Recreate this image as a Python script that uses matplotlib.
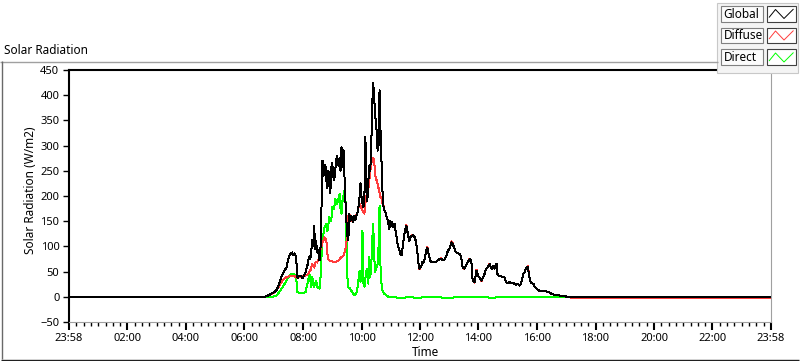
import matplotlib
matplotlib.use('Agg')
import matplotlib.pyplot as plt
from matplotlib.lines import Line2D
from matplotlib.patches import Rectangle
from matplotlib.ticker import FixedLocator

plt.rcParams['font.family'] = ['Noto Sans', 'DejaVu Sans']

# time of day in minutes (shared by Global and Diffuse)
t_day = [-2, 399, 405, 411, 417, 423, 427, 431, 436, 440, 444, 448, 450, 452, 454, 456,
         458, 460, 462, 464, 466, 468, 470, 475, 477, 481, 483, 485, 487, 489, 491, 493,
         495, 497, 499, 501, 503, 505, 507, 509, 512, 514, 516, 518, 520, 522, 524, 526,
         528, 530, 532, 534, 536, 538, 540, 542, 544, 546, 548, 551, 553, 555, 557, 559,
         561, 563, 565, 567, 569, 571, 573, 575, 577, 579, 581, 583, 585, 587, 590, 592,
         594, 596, 598, 600, 602, 604, 606, 608, 610, 612, 614, 616, 618, 620, 622, 624,
         626, 629, 631, 633, 635, 637, 639, 641, 643, 645, 647, 649, 651, 653, 655, 657,
         659, 661, 663, 666, 668, 670, 672, 674, 676, 678, 680, 682, 684, 686, 688, 690,
         692, 694, 696, 698, 700, 703, 705, 707, 709, 711, 713, 715, 717, 719, 721, 723,
         725, 727, 729, 731, 733, 735, 737, 739, 741, 746, 750, 754, 758, 762, 764, 768,
         772, 774, 776, 779, 781, 783, 785, 787, 789, 791, 793, 797, 799, 801, 803, 805,
         807, 809, 811, 813, 816, 818, 820, 822, 824, 826, 828, 830, 832, 834, 836, 838,
         840, 842, 844, 846, 848, 850, 852, 854, 857, 859, 861, 863, 865, 867, 869, 871,
         873, 875, 877, 879, 881, 885, 887, 892, 894, 896, 900, 902, 906, 910, 912, 916,
         918, 922, 924, 926, 928, 930, 933, 935, 937, 939, 941, 943, 945, 947, 951, 953,
         957, 959, 963, 970, 976, 980, 984, 988, 994, 1000, 1009, 1015, 1021, 1027, 1438]

global_rad = [0, 0, 2, 5, 8, 12, 20, 32, 45, 52, 58, 76, 82, 86, 84, 88,
              82, 86, 84, 78, 40, 38, 42, 40, 37, 44, 48, 56, 62, 72, 80, 75,
              92, 112, 100, 140, 95, 110, 88, 92, 72, 100, 180, 270, 240, 250, 262, 230,
              215, 250, 238, 205, 255, 266, 240, 231, 250, 270, 280, 260, 276, 250, 297, 257,
              292, 240, 190, 150, 120, 112, 165, 150, 160, 155, 148, 160, 152, 158, 168, 180,
              198, 225, 200, 185, 178, 200, 318, 210, 190, 230, 260, 250, 300, 380, 425, 395,
              360, 330, 290, 300, 410, 330, 270, 210, 180, 172, 168, 160, 155, 145, 135, 150,
              140, 148, 138, 145, 130, 118, 105, 98, 92, 85, 82, 95, 110, 125, 135, 141,
              130, 120, 110, 118, 120, 122, 120, 118, 112, 100, 85, 65, 56, 58, 62, 69,
              67, 72, 82, 92, 97, 88, 80, 72, 68, 70, 69, 72, 75, 76, 72, 74,
              80, 88, 92, 97, 104, 108, 106, 100, 95, 90, 88, 86, 85, 82, 75, 60,
              57, 56, 60, 64, 69, 72, 75, 74, 65, 32, 30, 29, 42, 52, 45, 40,
              38, 34, 32, 36, 40, 44, 52, 56, 59, 62, 65, 58, 55, 58, 62, 56,
              63, 65, 45, 42, 41, 41, 39, 38, 30, 27, 28, 29, 28, 27, 25, 24,
              26, 22, 24, 30, 38, 45, 50, 55, 58, 60, 48, 36, 30, 27, 25, 20,
              17, 14, 12, 12, 11, 10, 8, 6, 4, 3, 2, 1, 0, 0, 0]

diffuse_rad = [0, 0, 2, 4, 7, 12, 18, 25, 32, 36, 39, 40, 42, 42, 42, 42,
               41, 41, 40, 39, 38, 38, 40, 40, 40, 41, 42, 43, 44, 46, 49, 52,
               58, 65, 62, 58, 68, 70, 68, 72, 79, 95, 100, 108, 112, 118, 115, 110,
               85, 74, 72, 71, 71, 70, 70, 69, 70, 70, 71, 72, 74, 77, 79, 80,
               82, 88, 95, 105, 145, 160, 165, 158, 152, 150, 152, 155, 158, 162, 168, 178,
               184, 180, 175, 172, 168, 165, 185, 200, 210, 215, 230, 250, 265, 274, 276, 272,
               240, 231, 224, 215, 205, 198, 195, 185, 182, 172, 168, 160, 155, 145, 135, 150,
               140, 148, 138, 145, 130, 118, 105, 98, 92, 85, 82, 95, 110, 125, 135, 143,
               130, 120, 110, 118, 120, 123, 120, 118, 112, 100, 85, 65, 55, 58, 62, 69,
               67, 72, 82, 92, 99, 88, 80, 72, 68, 70, 69, 72, 75, 77, 72, 74,
               80, 88, 92, 97, 104, 110, 106, 100, 95, 90, 88, 86, 85, 82, 75, 60,
               57, 55, 60, 64, 69, 72, 76, 74, 65, 32, 30, 28, 42, 54, 45, 40,
               38, 34, 31, 36, 40, 44, 52, 56, 59, 62, 66, 58, 55, 58, 62, 56,
               63, 66, 45, 42, 41, 41, 39, 38, 30, 27, 28, 29, 28, 27, 25, 24,
               26, 22, 24, 30, 38, 45, 50, 55, 58, 61, 48, 36, 30, 27, 25, 20,
               17, 14, 12, 12, 11, 10, 8, 6, 4, 3, 2, 1, 0, -1.5, -1.5]

# Direct has its own (sparser) time base
t_direct = [-2, 415, 423, 429, 436, 444, 450, 456, 460, 464, 466, 470, 477, 483, 487, 491,
            495, 497, 501, 505, 507, 512, 514, 516, 518, 522, 526, 528, 532, 536, 538, 542,
            544, 546, 548, 553, 555, 557, 559, 563, 565, 567, 569, 571, 573, 577, 581, 583,
            587, 590, 594, 596, 598, 600, 602, 604, 608, 610, 612, 614, 616, 618, 620, 622,
            624, 626, 629, 631, 633, 635, 637, 639, 641, 645, 649, 653, 666, 676, 696, 717,
            723, 737, 758, 768, 799, 840, 857, 861, 881, 922, 984, 1000, 1438]

direct_rad = [0, 0, 2, 9, 19, 32, 42, 46, 44, 40, 9, 8, 7, 9, 25, 46,
              19, 39, 20, 32, 20, 16, 40, 80, 112, 138, 145, 130, 158, 150, 178, 175,
              195, 191, 185, 204, 175, 165, 190, 210, 195, 120, 39, 19, 18, 12, 6, 4,
              5, 19, 52, 30, 35, 131, 26, 20, 52, 55, 26, 79, 40, 60, 112, 145,
              80, 50, 60, 65, 100, 181, 60, 26, 12, 6, 3, 0, -1, -2, -1, -2,
              -1, -1, -1, -2, -1, -1, -1, -2, -1, -1, -1, 0, 0]

major_ticks = [-2 + 120 * k for k in range(13)]
major_labels = ['23:58', '02:00', '04:00', '06:00', '08:00', '10:00', '12:00',
                '14:00', '16:00', '18:00', '20:00', '22:00', '23:58']
minor_ticks = [-2 + 15 * k for k in range(97)]
y_ticks = [-50, 0, 50, 100, 150, 200, 250, 300, 350, 400, 450]

series = [('Global', '#000000'), ('Diffuse', '#ff3c3c'), ('Direct', '#00ff00')]

W, H = 800, 361

def fx(x):
    return x / W

def fy(y):
    return 1 - y / H

def fig_line(xs, ys, color, lw=1.0):
    fig.add_artist(Line2D([fx(x) for x in xs], [fy(y) for y in ys],
                          color=color, lw=lw, solid_capstyle='butt'))

def fig_box(x0, y0, x1, y1, face, edge, lw=0.8):
    fig.add_artist(Rectangle((fx(x0), fy(y1)), fx(x1) - fx(x0), fy(y0) - fy(y1),
                             facecolor=face, edgecolor=edge, lw=lw))


fig = plt.figure(figsize=(8, 3.61), dpi=100)
fig.patch.set_facecolor('white')

# outer panel frame
fig_line([0, 718], [61.5, 61.5], '#a0a0a0')
fig_line([1.5, 1.5], [61, 359], '#696969')
fig_line([1, 799], [359.5, 359.5], '#202020')
fig.text(fx(4), fy(51), 'Solar Radiation', fontsize=8.5, va='center', ha='left')

ax = fig.add_axes([fx(69), fy(322), fx(771) - fx(69), fy(70) - fy(322)])
ax.plot(t_direct, direct_rad, color=series[2][1], lw=0.72, antialiased=False)
ax.plot(t_day, diffuse_rad, color=series[1][1], lw=0.72, antialiased=False)
ax.plot(t_day, global_rad, color=series[0][1], lw=0.72, antialiased=False)

ax.set_xlim(-2, 1438)
ax.set_ylim(-50, 450)
ax.xaxis.set_major_locator(FixedLocator(major_ticks))
ax.xaxis.set_minor_locator(FixedLocator(minor_ticks))
ax.set_xticklabels(major_labels)
ax.set_yticks(y_ticks)

ax.spines['top'].set_color('black')
ax.spines['top'].set_linewidth(1.5)
ax.spines['left'].set_color('black')
ax.spines['left'].set_linewidth(1.5)
ax.spines['right'].set_color('#a0a0a0')
ax.spines['bottom'].set_color('#a0a0a0')

ax.tick_params(axis='y', which='major', length=4, width=1, direction='out',
               labelsize=8, pad=3)
ax.tick_params(axis='x', which='major', length=6, width=1.5, direction='out',
               labelsize=8, pad=2)
ax.tick_params(axis='x', which='minor', length=3, width=1, direction='out')

fig.text(fx(31), fy(190), 'Solar Radiation (W/m2)', rotation=90, fontsize=8.5,
         ha='center', va='center')
fig.text(fx(425), fy(353), 'Time', fontsize=8.5, ha='center', va='center')

# legend panel
fig_box(717, 3, 798, 73, '#f4f4f4', '#c8c8c8')
row_tops = [6, 27.5, 49.5]
for (name, color), top in zip(series, row_tops):
    fig_box(721, top, 763, top + 15.5, '#fbfbfb', '#808080')
    fig.text(fx(723.5), fy(top + 8), name, fontsize=8.5, va='center', ha='left')
    fig_box(767, top, 796, top + 15.5, 'white', '#404040')
    fig_line([769, 775.5, 784, 793.5], [top + 11.5, top + 3.5, top + 12.5, top + 3],
             color, lw=0.7)

fig.savefig('out.png', dpi=100)
